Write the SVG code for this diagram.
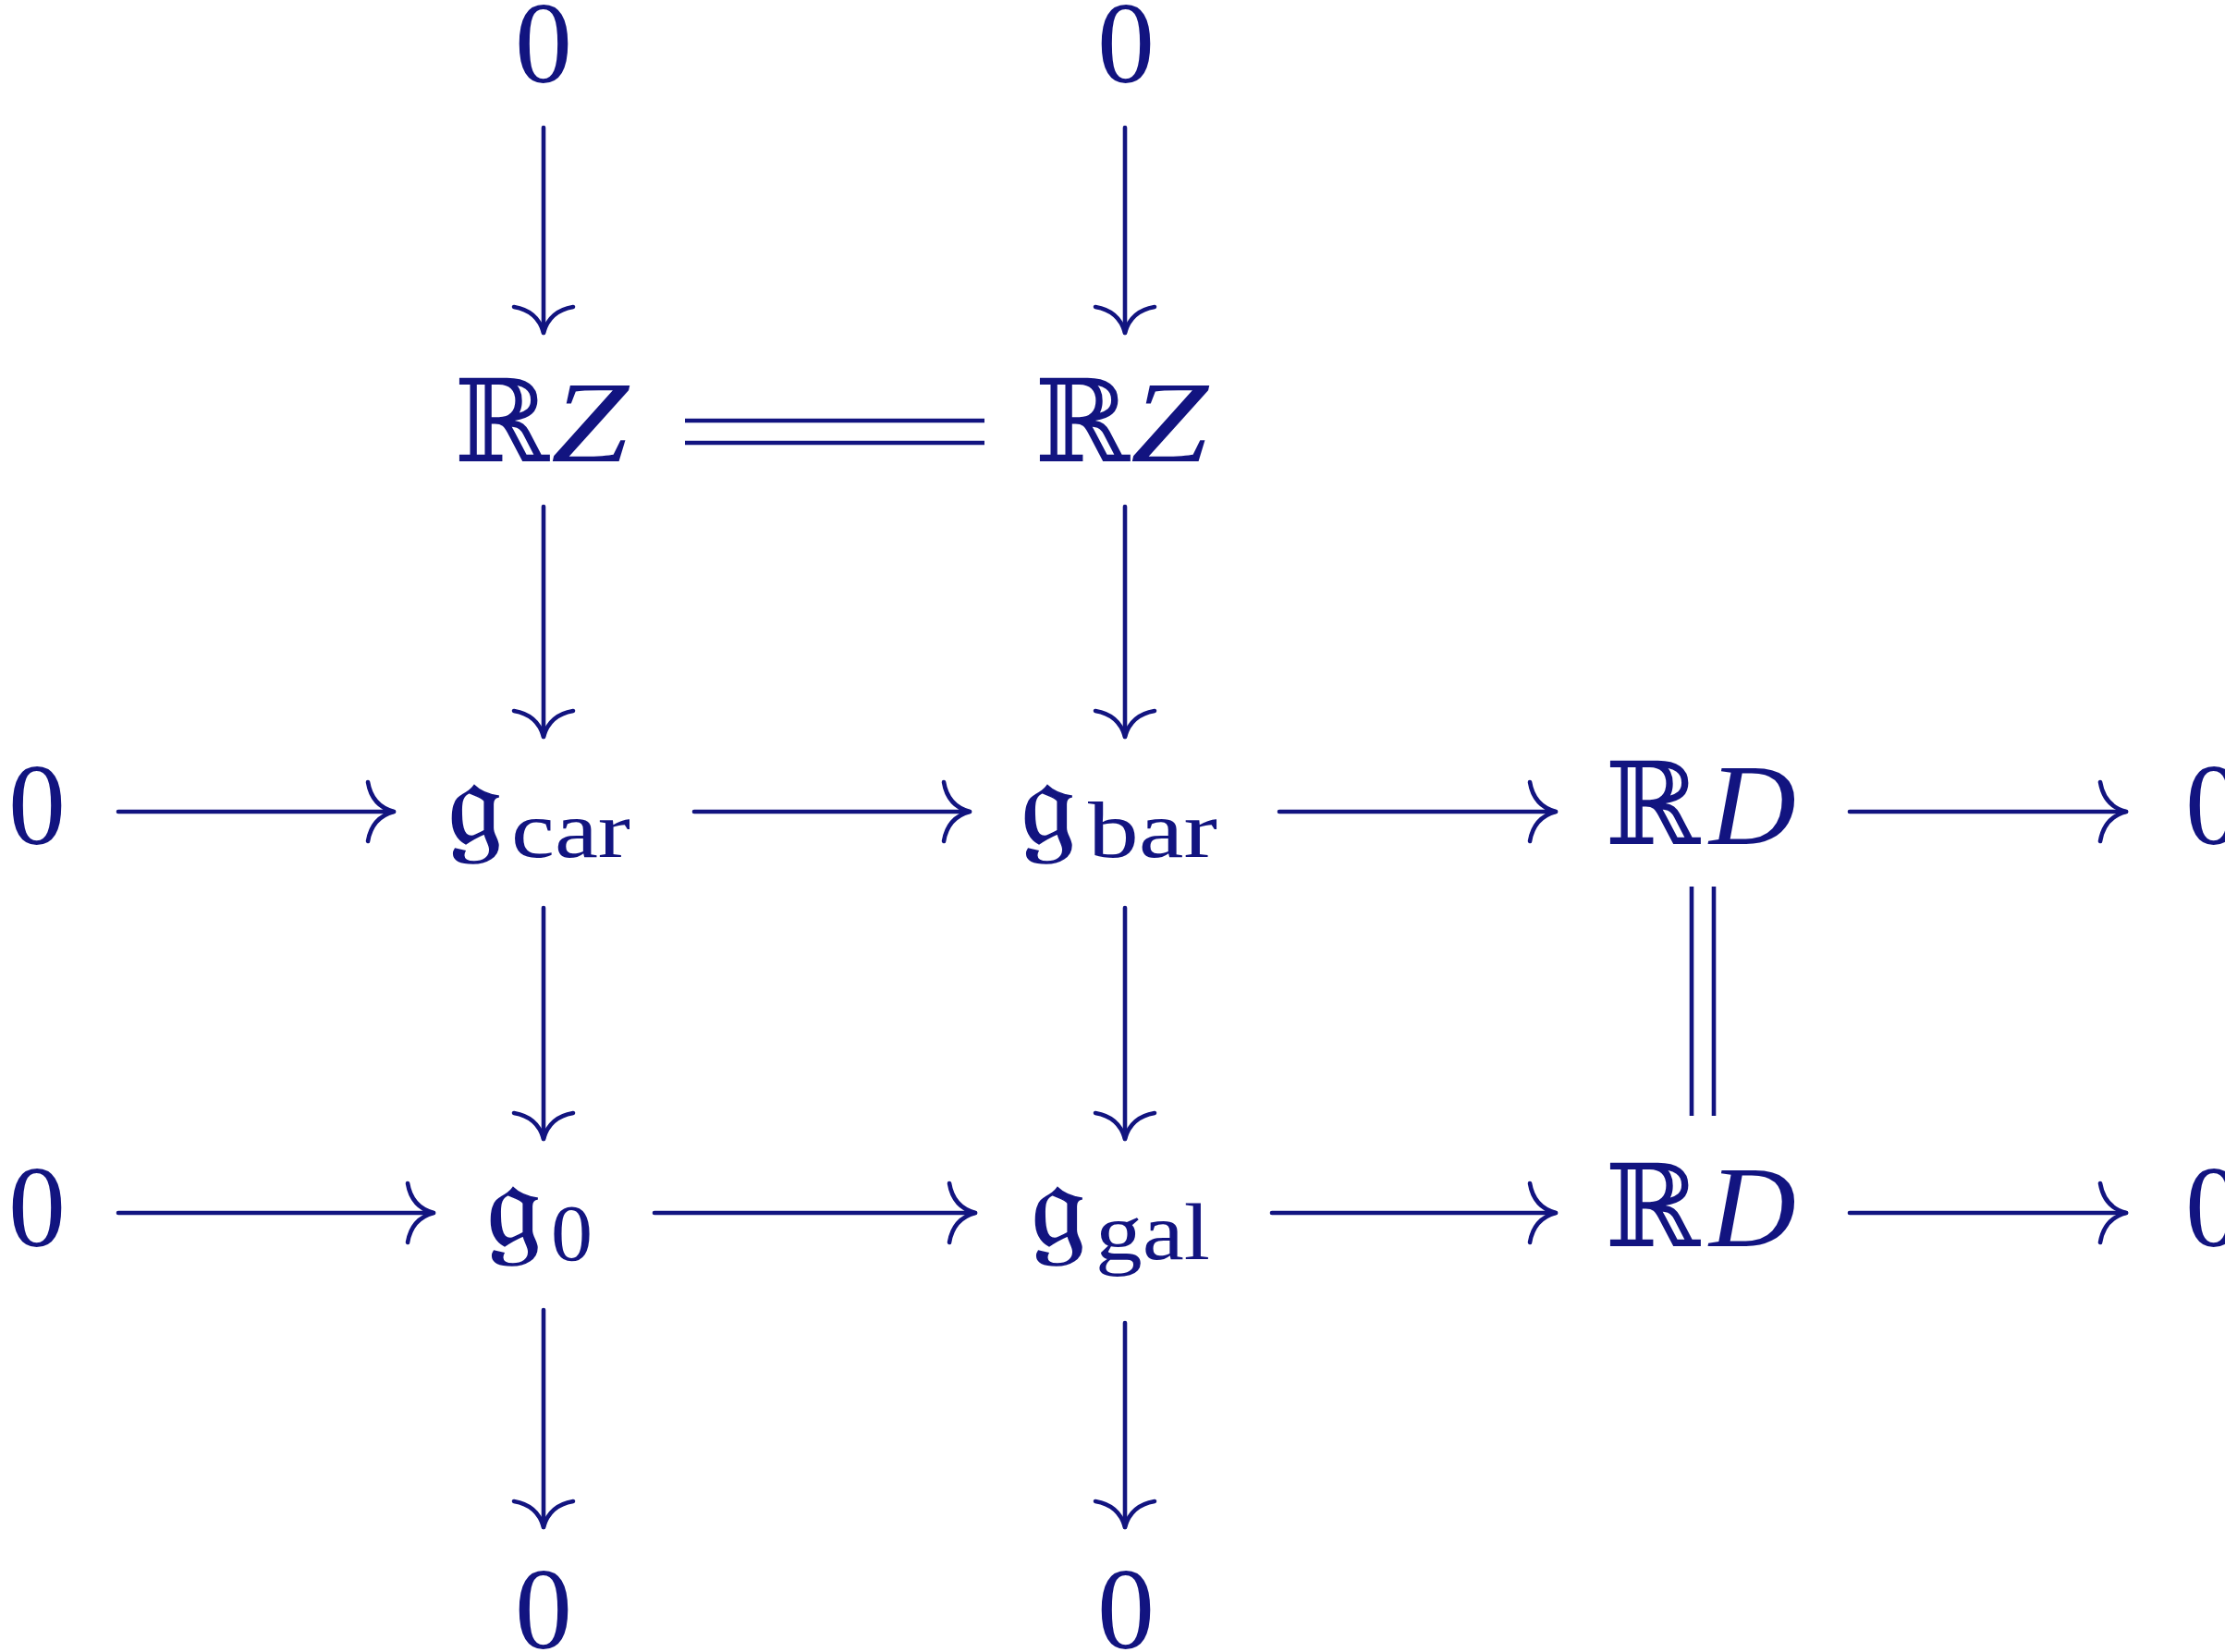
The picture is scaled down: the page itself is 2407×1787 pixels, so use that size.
<svg xmlns="http://www.w3.org/2000/svg" xmlns:xlink="http://www.w3.org/1999/xlink" width="2407" height="1787" viewBox="0 0 2407 1787">
<style>
.t{font-family:"Liberation Serif","DejaVu Serif","DejaVu Sans",serif;font-size:124px;fill:#121480}
.i{font-style:italic}
.s{font-size:86px}
.g{font-size:134px;stroke:#121480;stroke-width:1.6}
.ln{stroke:#121480;stroke-width:4.6;fill:none;stroke-linecap:round}
.dl{stroke:#121480;stroke-width:4.6;fill:none}
</style>
<defs>
<path id="ah" d="M-28,-32 C-25,-14 -15,-4 0,0 M-28,32 C-25,14 -15,4 0,0" class="ln"/>
</defs>
<rect width="2407" height="1787" fill="#fff"/>
<g id="n-top0a"><text class="t" x="588" y="89" text-anchor="middle">0</text></g>
<g id="n-top0b"><text class="t" x="1218" y="89" text-anchor="middle">0</text></g>
<g id="n-rz1"><text class="t" x="491" y="499">ℝ</text><text class="t i" x="596" y="499" textLength="84" lengthAdjust="spacingAndGlyphs">Z</text></g>
<g id="n-rz2"><text class="t" x="1119" y="499">ℝ</text><text class="t i" x="1223" y="499" textLength="84" lengthAdjust="spacingAndGlyphs">Z</text></g>
<g id="n-l0a"><text class="t" x="9" y="913">0</text></g>
<g id="n-gcar"><text class="t g" x="484" y="913">𝔤</text><text class="t s" x="553" y="927" textLength="129" lengthAdjust="spacingAndGlyphs">car</text></g>
<g id="n-gbar"><text class="t g" x="1104" y="913">𝔤</text><text class="t s" x="1177" y="927" textLength="140" lengthAdjust="spacingAndGlyphs">bar</text></g>
<g id="n-rd1"><text class="t" x="1736" y="913">ℝ</text><text class="t i" x="1849" y="913" textLength="94" lengthAdjust="spacingAndGlyphs">D</text></g>
<g id="n-r0a"><text class="t" x="2364" y="913">0</text></g>
<g id="n-l0b"><text class="t" x="9" y="1348">0</text></g>
<g id="n-g0"><text class="t g" x="526" y="1348">𝔤</text><text class="t s" x="596" y="1363" textLength="45" lengthAdjust="spacingAndGlyphs">0</text></g>
<g id="n-ggal"><text class="t g" x="1115" y="1348">𝔤</text><text class="t s" x="1185" y="1362" textLength="124" lengthAdjust="spacingAndGlyphs">gal</text></g>
<g id="n-rd2"><text class="t" x="1736" y="1348">ℝ</text><text class="t i" x="1849" y="1348" textLength="94" lengthAdjust="spacingAndGlyphs">D</text></g>
<g id="n-r0b"><text class="t" x="2364" y="1348">0</text></g>
<g id="n-bot0a"><text class="t" x="588" y="1783" text-anchor="middle">0</text></g>
<g id="n-bot0b"><text class="t" x="1218" y="1783" text-anchor="middle">0</text></g>
<g id="connectors">
<line class="ln" x1="588" y1="138" x2="588" y2="360"/><use xlink:href="#ah" transform="translate(588,360) rotate(90)"/>
<line class="ln" x1="588" y1="548" x2="588" y2="797"/><use xlink:href="#ah" transform="translate(588,797) rotate(90)"/>
<line class="ln" x1="588" y1="982" x2="588" y2="1232"/><use xlink:href="#ah" transform="translate(588,1232) rotate(90)"/>
<line class="ln" x1="588" y1="1417" x2="588" y2="1652"/><use xlink:href="#ah" transform="translate(588,1652) rotate(90)"/>
<line class="ln" x1="1217" y1="138" x2="1217" y2="360"/><use xlink:href="#ah" transform="translate(1217,360) rotate(90)"/>
<line class="ln" x1="1217" y1="548" x2="1217" y2="797"/><use xlink:href="#ah" transform="translate(1217,797) rotate(90)"/>
<line class="ln" x1="1217" y1="982" x2="1217" y2="1232"/><use xlink:href="#ah" transform="translate(1217,1232) rotate(90)"/>
<line class="ln" x1="1217" y1="1431" x2="1217" y2="1652"/><use xlink:href="#ah" transform="translate(1217,1652) rotate(90)"/>
<line class="ln" x1="128" y1="878" x2="426" y2="878"/><use xlink:href="#ah" transform="translate(426,878)"/>
<line class="ln" x1="751" y1="878" x2="1049" y2="878"/><use xlink:href="#ah" transform="translate(1049,878)"/>
<line class="ln" x1="1384" y1="878" x2="1683" y2="878"/><use xlink:href="#ah" transform="translate(1683,878)"/>
<line class="ln" x1="2001" y1="878" x2="2300" y2="878"/><use xlink:href="#ah" transform="translate(2300,878)"/>
<line class="ln" x1="128" y1="1312" x2="469" y2="1312"/><use xlink:href="#ah" transform="translate(469,1312)"/>
<line class="ln" x1="708" y1="1312" x2="1055" y2="1312"/><use xlink:href="#ah" transform="translate(1055,1312)"/>
<line class="ln" x1="1376" y1="1312" x2="1683" y2="1312"/><use xlink:href="#ah" transform="translate(1683,1312)"/>
<line class="ln" x1="2001" y1="1312" x2="2300" y2="1312"/><use xlink:href="#ah" transform="translate(2300,1312)"/>
<line class="dl" x1="741" y1="455" x2="1065" y2="455"/>
<line class="dl" x1="741" y1="479" x2="1065" y2="479"/>
<line class="dl" x1="1830" y1="959" x2="1830" y2="1207"/>
<line class="dl" x1="1854" y1="959" x2="1854" y2="1207"/>
</g>
</svg>
